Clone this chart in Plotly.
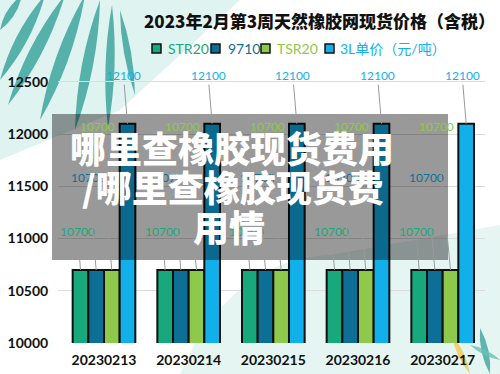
import plotly.graph_objects as go

# ---------------- data ----------------
dates = ["20230213", "20230214", "20230215", "20230216", "20230217"]
str20 = [10700, 10700, 10700, 10700, 10700]
p9710 = [10700, 10700, 10700, 10700, 10700]
tsr20 = [10700, 10700, 10700, 10700, 10700]
l3 = [12100, 12100, 12100, 12100, 12100]
series_names = ["STR20", "9710", "TSR20", "3L单价（元/吨）"]
y_ticks = [10000, 10500, 11000, 11500, 12000, 12500]
y_tick_labels = ["10000", "10500", "11000", "11500", "12000", "12500"]

title_text = "2023年2月第3周天然橡胶网现货价格（含税）"
overlay_lines = ["哪里查橡胶现货费用", "/哪里查橡胶现货费", "用情"]

# ---------------- style ----------------
colors = ["#17a97b", "#0d6f95", "#8ec94b", "#12b0ea"]
W, H = 500, 374
L, R, T, B = 58, 15, 61, 31
pw, ph = W - L - R, H - T - B
BARGAP = 0.26


def px(x):
    return (x - L) / pw


def py(y):
    return (H - B - y) / ph


fig = go.Figure()
all_series = [str20, p9710, tsr20, l3]
for name, vals, c in zip(series_names, all_series, colors):
    fig.add_trace(go.Bar(
        x=dates, y=vals, name=name, marker=dict(color=c, line=dict(color="#111111", width=2)),
        showlegend=False, hoverinfo="x+y+name"))

# data labels with leader lines (pixel offsets)
label_offsets = [(-3, -38), (-8, -92), (-14, -143), (-4, -48)]
n = len(all_series)
bw = (1 - BARGAP) / n
annotations = []
for si, (vals, c, (ax, ay)) in enumerate(zip(all_series, colors, label_offsets)):
    off = -(1 - BARGAP) / 2 + bw * (si + 0.5)
    for di, v in enumerate(vals):
        annotations.append(dict(
            x=di + off, y=v, xref="x", yref="y", text=f"{v}", showarrow=True,
            arrowhead=0, arrowwidth=1, arrowcolor="#9a9a9a", ax=ax, ay=ay,
            font=dict(family="Lato", size=12, color=c), standoff=0))

# title
annotations.append(dict(x=px(497), y=py(20), xref="paper", yref="paper", xanchor="right",
                        yanchor="middle", showarrow=False, text=title_text,
                        font=dict(family="Noto Sans CJK SC", size=17, color="#111111", weight=900)))

# legend (squares + coloured texts)
legend_pos = [(152, 166), (211, 226), (261, 275), (325, 338)]
shapes = []
# background decoration
shapes.append(dict(type="path", xref="paper", yref="paper", layer="below",
                   path=f"M {px(0)},{py(0)} L {px(240)},{py(0)} L {px(120)},{py(110)} L {px(0)},{py(160)} Z",
                   fillcolor="#dff3f1", line=dict(width=0)))
shapes.append(dict(type="path", xref="paper", yref="paper", layer="below",
                   path=(f"M {px(180)},{py(374)} Q {px(230)},{py(260)} {px(330)},{py(255)} "
                         f"L {px(500)},{py(225)} L {px(500)},{py(374)} Z"),
                   fillcolor="#e4f5f2", line=dict(width=0)))
leaves = [((22, -5), (0, 30), 8), ((45, -5), (0, 80), 11), ((65, -5), (8, 105), 12),
          ((85, -5), (40, 120), 12), ((100, 0), (75, 130), 11), ((112, 5), (108, 128), 9),
          ((120, 10), (135, 95), 7)]
for (bx, by), (tx, ty), wd in leaves:
    mx, my = (bx + tx) / 2, (by + ty) / 2
    dx, dy = tx - bx, ty - by
    ln = (dx * dx + dy * dy) ** 0.5
    nx, ny = -dy / ln * wd, dx / ln * wd
    shapes.append(dict(type="path", xref="paper", yref="paper", layer="below",
                       path=(f"M {px(bx)},{py(by)} Q {px(mx + nx)},{py(my + ny)} {px(tx)},{py(ty)} "
                             f"Q {px(mx - nx)},{py(my - ny)} {px(bx)},{py(by)} Z"),
                       fillcolor="#3da49e", opacity=0.85, line=dict(width=0)))
for (bx, by), (tx, ty), wd, col in [((470, 374), (452, 335), 6, "#f2c84b"),
                                   ((490, 374), (480, 328), 7, "#3da49e"),
                                   ((500, 360), (470, 345), 5, "#6cc0b5")]:
    mx, my = (bx + tx) / 2, (by + ty) / 2
    dx, dy = tx - bx, ty - by
    ln = (dx * dx + dy * dy) ** 0.5
    nx, ny = -dy / ln * wd, dx / ln * wd
    shapes.append(dict(type="path", xref="paper", yref="paper", layer="below",
                       path=(f"M {px(bx)},{py(by)} Q {px(mx + nx)},{py(my + ny)} {px(tx)},{py(ty)} "
                             f"Q {px(mx - nx)},{py(my - ny)} {px(bx)},{py(by)} Z"),
                       fillcolor=col, opacity=0.8, line=dict(width=0)))

for (sx, tx), name, c in zip(legend_pos, series_names, colors):
    shapes.append(dict(type="rect", xref="paper", yref="paper",
                       x0=px(sx), x1=px(sx + 9), y0=py(44), y1=py(53),
                       fillcolor=c, line=dict(color="#111111", width=1.5)))
    annotations.append(dict(x=px(tx), y=py(49), xref="paper", yref="paper", xanchor="left",
                            yanchor="middle", showarrow=False, text=name,
                            font=dict(family="Lato, Noto Sans CJK SC", size=14, color=c)))

# gray overlay with white text
shapes.append(dict(type="rect", xref="paper", yref="paper", layer="above",
                   x0=px(52), x1=px(448), y0=py(114), y1=py(260),
                   fillcolor="rgba(0,0,0,0.4)", line=dict(width=0)))
for line_text, cx, cy in zip(overlay_lines, [232, 233, 229], [147, 186, 226]):
    annotations.append(dict(x=px(cx), y=py(cy), xref="paper", yref="paper", xanchor="center",
                            yanchor="middle", showarrow=False, text=line_text,
                            font=dict(family="Noto Sans CJK SC", size=36, color="white", weight=900)))

fig.update_layout(
    width=W, height=H, margin=dict(l=L, r=R, t=T, b=B, autoexpand=False),
    paper_bgcolor="white", plot_bgcolor="rgba(0,0,0,0)",
    barmode="group", bargap=BARGAP, bargroupgap=0,
    shapes=shapes, annotations=annotations, showlegend=False,
    xaxis=dict(type="category", showgrid=False, showline=False, zeroline=False, automargin=False,
               tickfont=dict(family="Lato", size=14, color="#111111", weight="bold"),
               ticks="outside", ticklen=4, tickcolor="rgba(0,0,0,0)"),
    yaxis=dict(range=[10000, 12700], tickvals=y_ticks, ticktext=y_tick_labels, automargin=False,
               showgrid=True, gridcolor="#dddddd",
               gridwidth=1, zeroline=False, showline=False,
               tickfont=dict(family="Lato", size=14, color="#111111", weight="bold"),
               ticks="outside", ticklen=6, tickcolor="rgba(0,0,0,0)"),
)

fig.write_html("out.html")
